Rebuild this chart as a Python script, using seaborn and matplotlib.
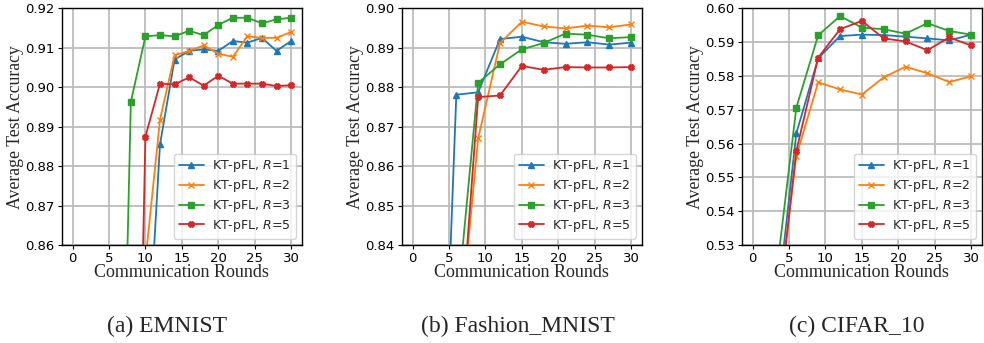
import numpy as np
import pandas as pd
import matplotlib
matplotlib.use("Agg")
import matplotlib.pyplot as plt
import seaborn as sns

# rounds
x_emnist = [0, 2, 4, 6, 8, 10, 12, 14, 16, 18, 20, 22, 24, 26, 28, 30]
x_other = [0, 3, 6, 9, 12, 15, 18, 21, 24, 27, 30]

# EMNIST
em_r1 = [0.10, 0.25, 0.40, 0.55, 0.68, 0.8215, 0.8855, 0.9070, 0.9092, 0.9096, 0.9092, 0.9117, 0.9113, 0.9125, 0.9092, 0.9117]
em_r2 = [0.10, 0.25, 0.40, 0.55, 0.70, 0.856, 0.8918, 0.9081, 0.9092, 0.9106, 0.9085, 0.9077, 0.9129, 0.9125, 0.9125, 0.9140]
em_r3 = [0.10, 0.30, 0.50, 0.738, 0.8963, 0.9129, 0.9132, 0.9129, 0.9143, 0.9132, 0.9158, 0.9176, 0.9176, 0.9162, 0.9172, 0.9176]
em_r5 = [0.10, 0.25, 0.40, 0.55, 0.716, 0.8875, 0.9009, 0.9007, 0.9025, 0.9004, 0.9029, 0.9009, 0.9009, 0.9009, 0.9003, 0.9005]

# Fashion_MNIST
fm_r1 = [0.40, 0.731, 0.8781, 0.8787, 0.8922, 0.8928, 0.8914, 0.8910, 0.8914, 0.8908, 0.8913]
fm_r2 = [0.40, 0.60, 0.809, 0.8670, 0.8912, 0.8966, 0.8954, 0.8949, 0.8956, 0.8952, 0.8959]
fm_r3 = [0.40, 0.62, 0.8224, 0.8811, 0.8858, 0.8896, 0.8912, 0.8936, 0.8933, 0.8924, 0.8927]
fm_r5 = [0.40, 0.60, 0.8025, 0.8775, 0.8779, 0.8854, 0.8844, 0.8851, 0.8850, 0.8850, 0.8851]

# CIFAR_10
cf_r1 = [0.30, 0.5048, 0.5630, 0.5852, 0.5918, 0.5922, 0.5921, 0.5916, 0.5911, 0.5905, 0.5922]
cf_r2 = [0.30, 0.504, 0.5563, 0.5781, 0.5760, 0.5745, 0.5796, 0.5827, 0.5808, 0.5782, 0.5799]
cf_r3 = [0.30, 0.5167, 0.5706, 0.5920, 0.5977, 0.5943, 0.5938, 0.5925, 0.5956, 0.5933, 0.5922]
cf_r5 = [0.30, 0.500, 0.5578, 0.5854, 0.5938, 0.5963, 0.5911, 0.5902, 0.5876, 0.5914, 0.5890]

labels = ["KT-pFL, $R$=1", "KT-pFL, $R$=2", "KT-pFL, $R$=3", "KT-pFL, $R$=5"]
markers = ["^", "x", "s", "X"]
colors = sns.color_palette("tab10")[0:4]

panels = [
    (x_emnist, [em_r1, em_r2, em_r3, em_r5], (0.86, 0.92), "(a) EMNIST"),
    (x_other, [fm_r1, fm_r2, fm_r3, fm_r5], (0.84, 0.90), "(b) Fashion_MNIST"),
    (x_other, [cf_r1, cf_r2, cf_r3, cf_r5], (0.53, 0.60), "(c) CIFAR_10"),
]

sns.set_style("ticks")
plt.rcParams["font.family"] = ["DejaVu Sans"]
plt.rcParams["mathtext.fontset"] = "dejavusans"

fig = plt.figure(figsize=(9.84, 3.43), dpi=100)
lefts = [61.7, 401.7, 741.7]
cap_x = [167, 518, 857]

for i, (xs, series, ylim, cap) in enumerate(panels):
    ax = fig.add_axes([lefts[i] / 984, 1 - 245 / 343, 240.3 / 984, (245 - 8.3) / 343])
    for j, ys in enumerate(series):
        df = pd.DataFrame({"round": xs, "acc": ys})
        sns.lineplot(data=df, x="round", y="acc", ax=ax, color=colors[j],
                     marker=markers[j], markersize=4.2, mec=colors[j], mew=1.0,
                     lw=1.3, label=labels[j])
    ax.set_ylim(*ylim)
    ax.set_xlim(-1.5, 31.5)
    ax.set_xticks([0, 5, 10, 15, 20, 25, 30])
    ax.set_yticks(np.arange(ylim[0], ylim[1] + 0.001, 0.01))
    ax.yaxis.set_major_formatter(matplotlib.ticker.FormatStrFormatter("%.2f"))
    ax.grid(True, color="#bcbcbc", lw=1.3)
    ax.set_axisbelow(True)
    for s in ax.spines.values():
        s.set_color("black")
        s.set_linewidth(1.0)
    ax.tick_params(labelsize=9.5, length=3, width=0.8, pad=2, colors="black")
    ax.set_xlabel("Communication Rounds", family="Liberation Serif", fontsize=13, labelpad=-1)
    ax.set_ylabel("Average Test Accuracy", family="Liberation Serif", fontsize=12.8, labelpad=1)
    ax.legend(loc="lower right", fontsize=9, handlelength=2.0, borderaxespad=0.5,
              labelspacing=0.3, handletextpad=0.7)
    fig.text(cap_x[i] / 984, 1 - 326 / 343, cap, family="Liberation Serif", fontsize=17,
             ha="center", va="center")

fig.savefig("out.png", dpi=100)
